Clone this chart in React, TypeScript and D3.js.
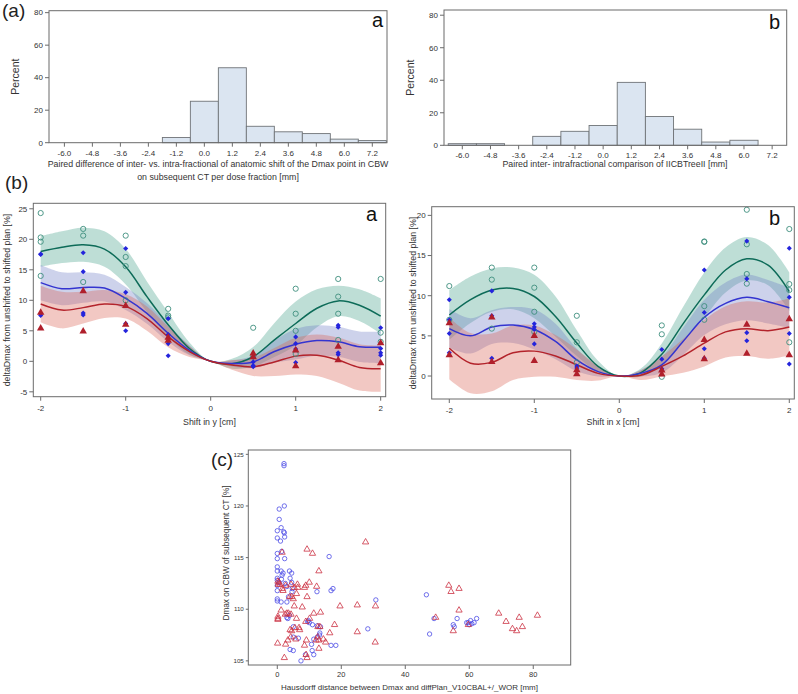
import React from "react";
import * as d3 from "d3";

// ---------- data ----------
const histBins = [-6.0, -4.8, -3.6, -2.4, -1.2, 0.0, 1.2, 2.4, 3.6, 4.8, 6.0, 7.2];
const histA = [0, 0, 0, 0, 3.2, 25.5, 46.1, 10.1, 6.7, 5.6, 2.2, 1.3];
const histB = [1.0, 1.0, 0, 5.5, 8.6, 12.2, 38.7, 17.7, 9.9, 2.0, 3.1, 0];
const percentTicks = [0, 20, 40, 60, 80];

const shiftTicks = [-2, -1, 0, 1, 2];
const fitGrid = [-2, -1.75, -1.5, -1.25, -1, -0.75, -0.5, -0.25, 0, 0.25, 0.5, 0.75, 1, 1.25, 1.5, 1.75, 2];

// panel (b) a : shift in y
const greenFitA = [18.0, 18.7, 19.1, 18.4, 15.5, 10.6, 6.0, 2.1, 0, -0.4, 0.75, 3.5, 6.2, 8.7, 9.9, 9.2, 7.4];
const greenBandA = [2.5, 2.6, 2.8, 2.9, 2.9, 2.5, 2.0, 1.0, 0, 0.8, 1.6, 2.8, 3.6, 3.1, 2.5, 2.6, 2.9];
const blueFitA = [12.9, 11.9, 12.1, 12.0, 10.3, 7.85, 4.6, 1.8, 0, -0.35, -0.1, 1.6, 2.8, 3.4, 3.2, 2.4, 2.3];
const blueBandA = [2.9, 2.7, 2.5, 2.2, 1.9, 1.7, 1.4, 0.8, 0, 0.5, 1.0, 1.8, 2.5, 2.5, 2.45, 2.5, 2.6];
const redFitA = [9.4, 8.4, 8.8, 9.4, 9.0, 7.0, 4.0, 1.6, 0, -0.6, -0.9, -0.1, 0.85, 1.0, 0.2, -1.0, -1.2];
const redBandA = [3.0, 3.0, 2.6, 2.3, 2.0, 2.0, 1.7, 0.9, 0, 0.8, 1.5, 2.3, 3.0, 3.4, 3.7, 3.8, 3.8];

const greenPtsA = [[-2, 24.3], [-2, 20.3], [-2, 19.6], [-2, 14.0], [-1.5, 21.7], [-1.5, 20.6], [-1.5, 13.0], [-1, 20.6], [-1, 17.1], [-1, 15.6], [-1, 10.0], [-0.5, 8.6], [-0.5, 7.5], [-0.5, 7.2], [0.5, 5.5], [0.5, 0.8], [1, 11.9], [1, 7.8], [1, 5.0], [1, 1.2], [1.5, 13.5], [1.5, 10.6], [1.5, 7.8], [1.5, 3.5], [2, 13.5], [2, 4.7], [2, 3.2]];
const bluePtsA = [[-2, 17.5], [-2, 17.6], [-2, 7.8], [-2, 7.5], [-1.5, 17.8], [-1.5, 14.7], [-1.5, 7.9], [-1.5, 7.6], [-1, 18.5], [-1, 11.3], [-1, 6.2], [-1, 5.0], [-0.5, 7.0], [-0.5, 4.4], [-0.5, 2.9], [-0.5, 0.9], [0.5, 0.7], [0.5, -0.1], [0.5, -0.7], [0.5, -0.9], [1, 4.0], [1, 2.9], [1, 2.0], [1, -0.2], [1.5, 5.9], [1.5, 5.6], [1.5, 1.4], [1.5, 1.1], [2, 5.5], [2, 2.1], [2, 1.4], [2, 1.0]];
const redPtsA = [[-2, 8.0], [-2, 5.4], [-1.5, 11.5], [-1.5, 4.9], [-1, 9.1], [-1, 6.0], [-0.5, 3.9], [-0.5, 3.4], [0.5, 1.3], [0.5, 0.7], [1, 1.8], [1, -0.8], [1.5, 2.4], [1.5, 0.2], [2, 3.0], [2, -0.3]];

// panel (b) b : shift in x
const greenFitB = [7.6, 9.5, 10.7, 10.9, 9.9, 7.4, 4.1, 1.2, 0, 0.4, 2.7, 6.5, 10.1, 13.2, 14.6, 13.8, 10.5];
const greenBandB = [3.1, 2.9, 2.7, 2.6, 2.7, 2.5, 1.6, 0.7, 0, 0.5, 1.35, 2.1, 2.8, 2.8, 2.7, 2.5, 2.4];
const blueFitB = [5.9, 5.0, 6.1, 6.35, 5.8, 4.3, 2.0, 0.55, 0, 0.33, 1.4, 4.3, 7.3, 9.05, 9.8, 9.25, 8.5];
const blueBandB = [2.4, 2.2, 2.1, 2.25, 2.5, 2.2, 1.4, 0.6, 0, 0.4, 1.0, 1.7, 2.2, 2.6, 2.85, 2.7, 2.5];
const redFitB = [3.45, 1.6, 1.7, 2.9, 3.1, 2.5, 1.4, 0.33, 0, 0.1, 1.2, 2.5, 4.1, 5.5, 5.9, 5.65, 6.1];
const redBandB = [3.85, 3.75, 3.6, 3.4, 3.2, 2.6, 1.9, 0.9, 0, 0.6, 1.25, 2.1, 2.9, 3.2, 3.4, 3.5, 3.55];

const greenPtsB = [[-2, 11.2], [-2, 7.0], [-1.5, 13.5], [-1.5, 12.0], [-1.5, 5.9], [-1, 13.5], [-1, 11.0], [-1, 8.0], [-1, 5.5], [-0.5, 7.5], [-0.5, 4.2], [-0.5, 1.7], [0.5, 6.3], [0.5, 5.2], [0.5, -0.1], [1, 16.7], [1, 16.75], [1, 8.7], [1, 7.0], [1.5, 20.7], [1.5, 16.4], [1.5, 12.7], [1.5, 11.5], [2, 18.3], [2, 11.45], [2, 10.7], [2, 4.2]];
const bluePtsB = [[-2, 9.5], [-2, 7.0], [-2, 5.3], [-2, 2.9], [-1.5, 10.6], [-1.5, 7.5], [-1.5, 2.2], [-1, 6.5], [-1, 6.1], [-1, 5.8], [-1, 4.0], [-0.5, 1.25], [-0.5, 1.0], [0.5, 3.3], [0.5, 2.1], [0.5, 0.9], [0.5, 0.65], [1, 13.2], [1, 7.9], [1, 3.4], [1, 2.2], [1.5, 16.8], [1.5, 12.1], [1.5, 5.4], [1.5, 4.4], [2, 15.9], [2, 9.8], [2, 5.3], [2, 1.5]];
const redPtsB = [[-2, 6.6], [-2, 2.6], [-1.5, 7.3], [-1.5, 1.75], [-1, 5.0], [-1, 1.9], [-0.5, 0.75], [-0.5, 0.25], [0.5, 0.7], [0.5, 0.2], [1, 4.5], [1, 2.1], [1.5, 6.4], [1.5, 2.8], [2, 7.1], [2, 2.6]];

// panel (c)
const hausTicks = [0, 20, 40, 60, 80];
const dmaxTicks = [105, 110, 115, 120, 125];
const bluePtsC = [[2.1, 124.1], [2.1, 123.9], [0.6, 119.7], [2.2, 120.0], [0.6, 118.7], [1.2, 117.9], [0, 117.6], [2.0, 117.5], [2.2, 117.4], [2.3, 117.0], [0, 116.9], [1.0, 116.6], [1.4, 115.6], [0, 115.4], [2.3, 114.9], [0, 114.9], [16.2, 115.1], [0, 114.1], [0, 113.7], [1.2, 113.7], [1.8, 113.5], [4.5, 113.5], [0, 113.0], [0, 112.8], [0.5, 112.6], [0, 112.3], [0, 111.8], [1.3, 112.9], [4.0, 113.0], [4.5, 112.6], [3.0, 112.2], [4.7, 112.0], [4.6, 111.7], [3.5, 111.2], [17.4, 112.0], [16.8, 111.8], [12.4, 111.7], [3.0, 110.7], [0, 111.0], [0, 110.8], [1.2, 110.7], [30.8, 110.9], [46.6, 111.4], [3.8, 109.4], [3.0, 109.2], [3.3, 109.1], [9.7, 108.9], [10.0, 108.7], [11.0, 108.5], [12.5, 108.4], [13.5, 108.3], [13.3, 107.7], [28.3, 108.1], [47.6, 107.6], [49.0, 109.1], [55.0, 108.5], [55.3, 108.3], [56.2, 109.1], [59.2, 108.7], [59.7, 108.7], [60.4, 108.9], [60.8, 108.6], [61.5, 108.7], [62.3, 109.1], [60.0, 108.5], [5.0, 107.3], [6.6, 107.2], [7.4, 105.0], [8.8, 105.6], [10.7, 106.6], [10.9, 106.0], [11.4, 105.6], [11.4, 107.1], [12.5, 107.3], [13.2, 107.5], [16.8, 106.5], [18.3, 106.5], [4.0, 106.1], [5.0, 106.0], [9.5, 108.8], [5.0, 108.3], [2.5, 112.5], [3.8, 113.7], [1.5, 113.3]];
const redPtsC = [[27.6, 116.5], [9.3, 115.8], [11.0, 115.4], [1.5, 115.5], [13.0, 113.7], [0.2, 112.7], [0.5, 112.6], [0.8, 112.4], [0.3, 112.4], [1.6, 112.0], [2.6, 112.3], [4.3, 112.4], [5.3, 112.1], [6.3, 112.4], [6.4, 112.1], [8.5, 112.1], [8.9, 112.3], [10.0, 112.6], [12.3, 112.2], [1.8, 111.8], [3.9, 111.2], [4.5, 111.2], [5.0, 111.0], [6.0, 111.5], [9.3, 111.2], [1.2, 109.9], [0.2, 109.3], [0.2, 109.1], [0.2, 109.0], [2.5, 109.5], [3.0, 109.6], [3.5, 109.6], [4.3, 109.5], [5.3, 110.3], [6.0, 109.1], [7.8, 110.2], [10.1, 109.1], [11.4, 109.6], [13.5, 109.7], [19.6, 110.3], [25.0, 110.4], [30.7, 110.3], [4.0, 108.0], [4.5, 107.9], [5.5, 108.2], [7.0, 108.0], [6.8, 108.2], [9.1, 107.0], [8.9, 108.8], [12.7, 108.3], [13.3, 108.3], [16.4, 107.7], [17.9, 108.5], [25.0, 107.8], [0.1, 106.7], [2.6, 106.6], [3.3, 107.0], [4.2, 107.3], [5.8, 107.1], [8.5, 106.5], [12.1, 107.0], [12.6, 107.3], [13.0, 107.0], [14.4, 107.1], [15.1, 106.8], [13.0, 106.2], [30.6, 106.8], [2.2, 105.3], [9.0, 105.6], [9.3, 105.3], [53.6, 112.3], [54.3, 111.7], [56.8, 112.0], [56.8, 109.9], [49.5, 109.2], [55.0, 107.9], [59.7, 108.5], [69.2, 109.6], [71.5, 108.8], [73.5, 108.1], [74.8, 107.9], [75.6, 109.2], [76.6, 108.3], [81.3, 109.4]];

// ---------- styles ----------
const FONT = "'Liberation Sans', Arial, sans-serif";
const frameColor = "#6b6b6b";
const textColor = "#333";

type Scale = d3.ScaleLinear<number, number>;

const Frame = ({ x, y }: { x: Scale; y: Scale }) => {
  const [x0, x1] = x.range();
  const [y0, y1] = y.range();
  return (
    <rect x={x0} y={y1} width={x1 - x0} height={y0 - y1} fill="none" stroke={frameColor} strokeWidth={1} />
  );
};

const AxisB = ({ x, y, ticks, fmt, dy = 13, fs = 8 }: { x: Scale; y: Scale; ticks: number[]; fmt: (v: number) => string; dy?: number; fs?: number }) => {
  const y0 = y.range()[0];
  return (
    <g>
      {ticks.map((t) => (
        <g key={t}>
          <line x1={x(t)} x2={x(t)} y1={y0} y2={y0 + 4} stroke={frameColor} />
          <text x={x(t)} y={y0 + dy} textAnchor="middle" fontSize={fs} fill={textColor}>{fmt(t)}</text>
        </g>
      ))}
    </g>
  );
};

const AxisL = ({ x, y, ticks, fs = 8, tick = 4 }: { x: Scale; y: Scale; ticks: number[]; fs?: number; tick?: number }) => {
  const x0 = x.range()[0];
  return (
    <g>
      {ticks.map((t) => (
        <g key={t}>
          <line x1={x0 - tick} x2={x0} y1={y(t)} y2={y(t)} stroke={frameColor} />
          <text x={x0 - tick - 2} y={y(t) + fs * 0.35} textAnchor="end" fontSize={fs} fill={textColor}>{t}</text>
        </g>
      ))}
    </g>
  );
};

const Histogram = ({ values, x, y, label }: { values: number[]; x: Scale; y: Scale; label: string }) => (
  <g>
    {histBins.map((c, i) =>
      values[i] > 0 ? (
        <rect key={c} x={x(c - 0.6)} y={y(values[i])} width={x(c + 0.6) - x(c - 0.6)} height={y(0) - y(values[i])}
          fill="#dbe5f1" stroke="#6f7377" strokeWidth={0.9} />
      ) : null
    )}
    <Frame x={x} y={y} />
    <AxisB x={x} y={y} ticks={histBins} fmt={(v) => v.toFixed(1)} />
    <AxisL x={x} y={y} ticks={percentTicks} />
    <text transform={`translate(${x.range()[0] - 30},${(y.range()[0] + y.range()[1]) / 2}) rotate(-90)`}
      textAnchor="middle" fontSize={10.5} fill={textColor}>{label}</text>
  </g>
);

const diamond = d3.symbol().type(d3.symbolSquare).size(13)() as string;
const triFill = d3.symbol().type(d3.symbolTriangle).size(24)() as string;
const triOpen = d3.symbol().type(d3.symbolTriangle).size(17)() as string;

const FitPanel = (p: {
  x: Scale; y: Scale; ticks: number[];
  fits: { line: number[]; band: number[]; stroke: string; fill: string }[];
  green: number[][]; blue: number[][]; red: number[][];
}) => {
  const { x, y } = p;
  const area = (line: number[], band: number[]) =>
    d3.area<number>().x((d) => x(d)).y0((d, i) => y(line[i] - band[i])).y1((d, i) => y(line[i] + band[i]))
      .curve(d3.curveCatmullRom.alpha(0.5))(fitGrid) as string;
  const path = (line: number[]) =>
    d3.line<number>().x((d) => x(d)).y((d, i) => y(line[i])).curve(d3.curveCatmullRom.alpha(0.5))(fitGrid) as string;
  return (
    <g>
      {p.fits.map((f, i) => (
        <path key={"b" + i} d={area(f.line, f.band)} fill={f.fill} fillOpacity={0.35} stroke="none" />
      ))}
      {p.fits.map((f, i) => (
        <path key={"l" + i} d={path(f.line)} fill="none" stroke={f.stroke} strokeWidth={1.5} />
      ))}
      {p.green.map((d, i) => (
        <circle key={"g" + i} cx={x(d[0])} cy={y(d[1])} r={2.6} fill="none" stroke="#3e8e7e" strokeWidth={0.9} />
      ))}
      {p.blue.map((d, i) => (
        <path key={"u" + i} d={diamond} transform={`translate(${x(d[0])},${y(d[1])}) rotate(45)`} fill="#2424dc" />
      ))}
      {p.red.map((d, i) => (
        <path key={"r" + i} d={triFill} transform={`translate(${x(d[0])},${y(d[1])})`} fill="#b01f2b" />
      ))}
      <Frame x={x} y={y} />
      <AxisB x={x} y={y} ticks={shiftTicks} fmt={(v) => String(v)} dy={14} />
    </g>
  );
};

export default function App() {
  // histograms
  const hxA = d3.scaleLinear().domain([-6.66, 7.83]).range([49, 387]);
  const hyA = d3.scaleLinear().domain([0, 81.2]).range([142.7, 10.7]);
  const hxB = d3.scaleLinear().domain([-6.78, 7.82]).range([444, 786.7]);
  const hyB = d3.scaleLinear().domain([0, 83.2]).range([145.3, 10]);

  // fitted shift panels
  const fxA = d3.scaleLinear().domain([-2.087, 2.059]).range([33.3, 385.7]);
  const fyA = d3.scaleLinear().domain([-5.8, 25.9]).range([396.7, 203.3]);
  const fxB = d3.scaleLinear().domain([-2.207, 2.059]).range([431.7, 794.3]);
  const fyB = d3.scaleLinear().domain([-2.86, 21.08]).range([399, 206.7]);

  // scatter
  const sx = d3.scaleLinear().domain([-9.06, 91.7]).range([248.3, 570.7]);
  const sy = d3.scaleLinear().domain([104.6, 125.42]).range([665, 450]);

  const greenC = "#0d6b58", blueC = "#3434d0", redC = "#b3232b";
  const greenF = "#45a08a", blueF = "#707ec6", redF = "#db6254";

  return (
    <svg width={798} height={694} style={{ position: "absolute", left: 0, top: 0, background: "#fff" }} fontFamily={FONT}>
      <rect width={798} height={694} fill="#fff" />
      {/* (a) histograms */}
      <text x={2} y={17} fontSize={19} fill="#222">(a)</text>
      <Histogram values={histA} x={hxA} y={hyA} label="Percent" />
      <text x={383} y={27} textAnchor="end" fontSize={20} fill="#111">a</text>
      <text x={218} y={167} textAnchor="middle" fontSize={8.8} fill={textColor}>
        Paired difference of inter- vs. intra-fractional of anatomic shift of the Dmax point in CBW
      </text>
      <text x={218} y={180} textAnchor="middle" fontSize={8.8} fill={textColor}>
        on subsequent CT per dose fraction [mm]
      </text>
      <Histogram values={histB} x={hxB} y={hyB} label="Percent" />
      <text x={780} y={29} textAnchor="end" fontSize={20} fill="#111">b</text>
      <text x={615} y={167} textAnchor="middle" fontSize={8.8} fill={textColor}>
        Paired inter- intrafractional comparison of IICBTreeII [mm]
      </text>

      {/* (b) shift panels */}
      <text x={5} y={189} fontSize={19} fill="#222">(b)</text>
      <FitPanel x={fxA} y={fyA} ticks={shiftTicks}
        fits={[
          { line: greenFitA, band: greenBandA, stroke: greenC, fill: greenF },
          { line: blueFitA, band: blueBandA, stroke: blueC, fill: blueF },
          { line: redFitA, band: redBandA, stroke: redC, fill: redF },
        ]}
        green={greenPtsA} blue={bluePtsA} red={redPtsA} />
      <AxisL x={fxA} y={fyA} ticks={[-5, 0, 5, 10, 15, 20, 25]} />
      <text x={377} y={221} textAnchor="end" fontSize={20} fill="#111">a</text>
      <text x={209.5} y={425} textAnchor="middle" fontSize={8.8} fill={textColor}>Shift in y [cm]</text>
      <text transform="translate(10,300) rotate(-90)" textAnchor="middle" fontSize={8.8} fill={textColor}>
        deltaDmax from unshifted to shifted plan [%]
      </text>

      <FitPanel x={fxB} y={fyB} ticks={shiftTicks}
        fits={[
          { line: greenFitB, band: greenBandB, stroke: greenC, fill: greenF },
          { line: blueFitB, band: blueBandB, stroke: blueC, fill: blueF },
          { line: redFitB, band: redBandB, stroke: redC, fill: redF },
        ]}
        green={greenPtsB} blue={bluePtsB} red={redPtsB} />
      <AxisL x={fxB} y={fyB} ticks={[0, 5, 10, 15, 20]} />
      <text x={780} y={225} textAnchor="end" fontSize={20} fill="#111">b</text>
      <text x={613} y={425} textAnchor="middle" fontSize={8.8} fill={textColor}>Shift in x [cm]</text>
      <text transform="translate(416,303) rotate(-90)" textAnchor="middle" fontSize={8.8} fill={textColor}>
        deltaDmax from unshifted to shifted plan [%]
      </text>

      {/* (c) scatter */}
      <text x={211} y={466} fontSize={19} fill="#222">(c)</text>
      {bluePtsC.map((d, i) => (
        <circle key={"c" + i} cx={sx(d[0])} cy={sy(d[1])} r={2.2} fill="none" stroke="#4d4de6" strokeWidth={0.8} />
      ))}
      {redPtsC.map((d, i) => (
        <path key={"t" + i} d={triOpen} transform={`translate(${sx(d[0])},${sy(d[1])})`} fill="none" stroke="#cc3143" strokeWidth={0.8} />
      ))}
      <Frame x={sx} y={sy} />
      <AxisB x={sx} y={sy} ticks={hausTicks} fmt={(v) => String(v)} dy={12} fs={7.5} />
      <AxisL x={sx} y={sy} ticks={dmaxTicks} fs={6.2} tick={2.5} />
      <text x={409.5} y={690} textAnchor="middle" fontSize={8} fill={textColor}>
        Hausdorff distance between Dmax and diffPlan_V10CBAL+/_WOR [mm]
      </text>
      <text transform="translate(229,553) rotate(-90)" textAnchor="middle" fontSize={8.2} fill={textColor}>
        Dmax on CBW of subsequent CT [%]
      </text>
    </svg>
  );
}
